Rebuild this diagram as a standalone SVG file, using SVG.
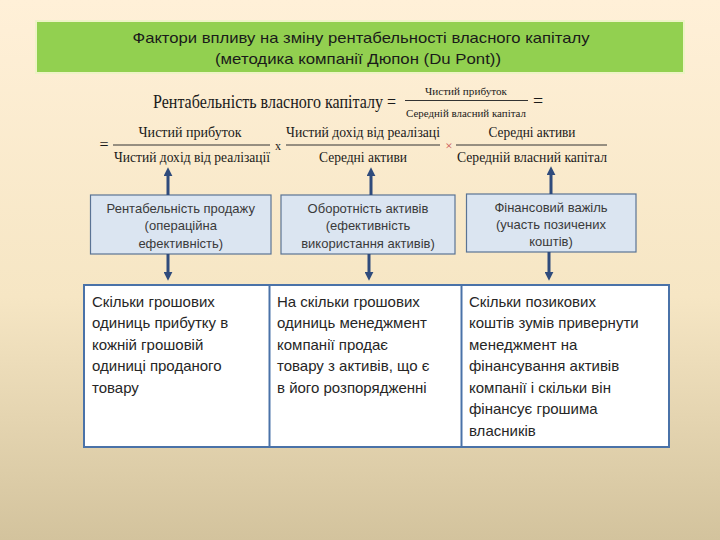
<svg xmlns="http://www.w3.org/2000/svg" width="720" height="540" viewBox="0 0 720 540">
  <defs>
    <linearGradient id="bg" x1="0" y1="0" x2="0" y2="1">
      <stop offset="0" stop-color="#FFF0D8"/>
      <stop offset="0.55" stop-color="#F6E6C4"/>
      <stop offset="1" stop-color="#D3C39D"/>
    </linearGradient>
    <marker id="ah" markerUnits="userSpaceOnUse" markerWidth="9" markerHeight="9" viewBox="0 0 8 8" refX="2" refY="4" orient="auto">
      <path d="M0,0 L8,4 L0,8 z" fill="#2F4B7C"/>
    </marker>
    <style>
      .banner{font-family:"Liberation Sans","Noto Sans",sans-serif;font-size:15px;fill:#1a1a1a;text-anchor:middle}
      .f{font-family:"Liberation Serif","DejaVu Serif",serif;fill:#1a1a1a;text-anchor:middle}
      .box{fill:#DBE5F1;stroke:#5A7394;stroke-width:1.2}
      .bt{font-family:"Liberation Sans","Noto Sans",sans-serif;font-size:13px;fill:#3a3a3a;text-anchor:middle}
      .tt{font-family:"Liberation Sans","Noto Sans",sans-serif;font-size:15px;fill:#262626}
      .arr{stroke:#2F4B7C;stroke-width:3;marker-end:url(#ah)}
      .fl{stroke:#333;stroke-width:1}
    </style>
  </defs>
  <rect x="0" y="0" width="720" height="540" fill="url(#bg)"/>

  <g id="title">
    <rect x="36" y="21" width="648" height="52" fill="#92D050" stroke="#EEF3C6" stroke-width="2"/>
    <text class="banner" x="361" y="43" textLength="457" lengthAdjust="spacingAndGlyphs">Фактори впливу на зміну рентабельності власного капіталу</text>
    <text class="banner" x="358" y="64" textLength="286" lengthAdjust="spacingAndGlyphs">(методика компанії Дюпон (Du Pont))</text>
  </g>

  <g id="formula1">
    <text class="f" x="153" y="108" font-size="18" style="text-anchor:start" textLength="243" lengthAdjust="spacingAndGlyphs">Рентабельність  власного капіталу =</text>
    <text class="f" x="466" y="95" font-size="10.5" textLength="82" lengthAdjust="spacingAndGlyphs">Чистий прибуток</text>
    <line class="fl" x1="405" y1="100.5" x2="528" y2="100.5"/>
    <text class="f" x="466" y="117" font-size="10.5" textLength="120" lengthAdjust="spacingAndGlyphs">Середній власний капітал</text>
    <text class="f" x="538" y="107" font-size="18">=</text>
  </g>

  <g id="formula2">
    <text class="f" x="104" y="150" font-size="16">=</text>
    <text class="f" x="190" y="137" font-size="14" textLength="103" lengthAdjust="spacingAndGlyphs">Чистий прибуток</text>
    <line class="fl" x1="113" y1="145" x2="270" y2="145"/>
    <text class="f" x="192" y="162" font-size="14" textLength="156" lengthAdjust="spacingAndGlyphs">Чистий дохід від реалізації</text>
    <text class="f" x="278" y="150" font-size="12" fill="#555">x</text>
    <text class="f" x="363" y="137" font-size="14" textLength="154" lengthAdjust="spacingAndGlyphs">Чистий дохід від реалізаці</text>
    <line class="fl" x1="286" y1="145" x2="440" y2="145"/>
    <text class="f" x="363" y="162" font-size="14" textLength="88" lengthAdjust="spacingAndGlyphs">Середні активи</text>
    <text class="f" x="449" y="150" font-size="13" style="fill:#C85050">×</text>
    <text class="f" x="532" y="137" font-size="14" textLength="87" lengthAdjust="spacingAndGlyphs">Середні активи</text>
    <line class="fl" x1="456" y1="145" x2="607" y2="145"/>
    <text class="f" x="532" y="162" font-size="14" textLength="150" lengthAdjust="spacingAndGlyphs">Середній власний капітал</text>
  </g>

  <g id="box1">
    <rect class="box" x="90.5" y="195" width="180.5" height="59"/>
    <text class="bt" x="180.75" y="212.5">Рентабельність продажу</text>
    <text class="bt" x="180.75" y="230">(операційна</text>
    <text class="bt" x="180.75" y="247.5">ефективність)</text>
  </g>
  <g id="box2">
    <rect class="box" x="281" y="195" width="174" height="59"/>
    <text class="bt" x="368" y="212.5">Оборотність активів</text>
    <text class="bt" x="368" y="230">(ефективність</text>
    <text class="bt" x="368" y="247.5">використання активів)</text>
  </g>
  <g id="box3">
    <rect class="box" x="466.5" y="194" width="169.5" height="58"/>
    <text class="bt" x="551" y="211.5">Фінансовий важіль</text>
    <text class="bt" x="551" y="228.5">(участь позичених</text>
    <text class="bt" x="551" y="245.5">коштів)</text>
  </g>

  <g id="table">
    <rect x="84" y="285" width="585" height="162" fill="#FFFFFF" stroke="#4A72A8" stroke-width="2"/>
    <line x1="269.5" y1="285" x2="269.5" y2="447" stroke="#4A72A8" stroke-width="2"/>
    <line x1="461.5" y1="285" x2="461.5" y2="447" stroke="#4A72A8" stroke-width="2"/>
    <g id="cell1">
      <text class="tt" x="92" y="306.5">Скільки грошових</text>
      <text class="tt" x="92" y="328">одиниць прибутку в</text>
      <text class="tt" x="92" y="349.5">кожній грошовій</text>
      <text class="tt" x="92" y="371">одиниці проданого</text>
      <text class="tt" x="92" y="392.5">товару</text>
    </g>
    <g id="cell2">
      <text class="tt" x="277" y="306.5">На скільки грошових</text>
      <text class="tt" x="277" y="328">одиниць менеджмент</text>
      <text class="tt" x="277" y="349.5">компанії продає</text>
      <text class="tt" x="277" y="371">товару з активів, що є</text>
      <text class="tt" x="277" y="392.5">в його розпорядженні</text>
    </g>
    <g id="cell3">
      <text class="tt" x="469" y="306.5">Скільки позикових</text>
      <text class="tt" x="469" y="328">коштів зумів привернути</text>
      <text class="tt" x="469" y="349.5">менеджмент на</text>
      <text class="tt" x="469" y="371">фінансування активів</text>
      <text class="tt" x="469" y="392.5">компанії і скільки він</text>
      <text class="tt" x="469" y="414">фінансує грошима</text>
      <text class="tt" x="469" y="435.5">власників</text>
    </g>
  </g>

  <g id="connectors">
    <line class="arr" x1="168" y1="195" x2="168" y2="174"/>
    <line class="arr" x1="168" y1="254" x2="168" y2="274"/>
    <line class="arr" x1="371" y1="195" x2="371" y2="174"/>
    <line class="arr" x1="369" y1="254" x2="369" y2="274"/>
    <line class="arr" x1="551" y1="194" x2="551" y2="173"/>
    <line class="arr" x1="549" y1="252" x2="549" y2="274"/>
  </g>
</svg>
